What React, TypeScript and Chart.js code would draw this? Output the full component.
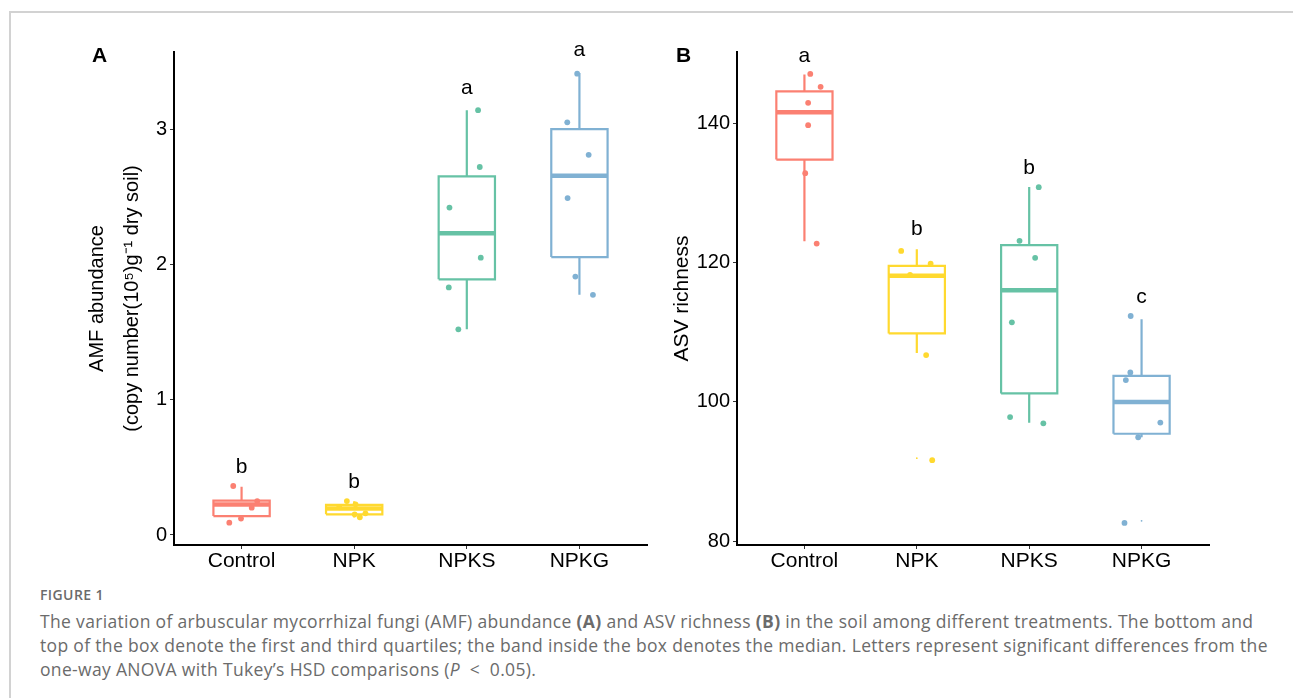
import React, { useEffect, useRef } from "react";
import { Chart, registerables } from "chart.js";

Chart.register(...registerables);

// ---------- shared ----------
const categories = ["Control", "NPK", "NPKS", "NPKG"];
const colors = ["#FB8072", "#FFD92F", "#66C2A5", "#80B1D3"];

// ---------- Panel A: AMF abundance ----------
const aTicks = [0, 1, 2, 3];
const aRange = [-0.074, 3.57];
const aQ1 = [0.14, 0.153, 1.89, 2.054];
const aMedian = [0.226, 0.195, 2.23, 2.655];
const aQ3 = [0.254, 0.222, 2.65, 3.0];
const aWhiskerLow = [0.124, 0.13, 1.52, 1.775];
const aWhiskerHigh = [0.357, 0.25, 3.14, 3.415];
const aPoints = [
  [0.362, 0.251, 0.202, 0.091, 0.121],
  [0.205, 0.251, 0.227, 0.153, 0.131, 0.16],
  [3.14, 2.72, 2.42, 2.05, 1.83, 1.52],
  [3.41, 3.05, 2.81, 2.49, 1.91, 1.775],
];
const aJitter = [
  [-0.074, 0.139, 0.09, -0.109, -0.005],
  [-0.133, -0.065, 0.012, 0.004, 0.05, 0.1],
  [0.1, 0.115, -0.154, 0.124, -0.16, -0.075],
  [-0.02, -0.108, 0.082, -0.105, -0.036, 0.12],
];
const aOutliers: (number | null)[] = [null, null, null, null];
const aLetters = ["b", "b", "a", "a"];
const aLetterY = [0.461, 0.345, 3.262, 3.538];

// ---------- Panel B: ASV richness ----------
const bTicks = [80, 100, 120, 140];
const bRange = [79.43, 150.2];
const bQ1 = [134.76, 109.8, 101.19, 95.4];
const bMedian = [141.55, 118.07, 116.0, 99.94];
const bQ3 = [144.56, 119.5, 122.47, 103.72];
const bWhiskerLow = [123.04, 107.0, 96.97, 94.9];
const bWhiskerHigh = [146.96, 121.9, 130.83, 111.85];
const bPoints = [
  [147.05, 145.2, 142.9, 139.7, 132.8, 122.7],
  [121.65, 119.8, 118.2, 106.7, 91.6],
  [130.8, 123.1, 120.65, 111.4, 97.8, 96.9],
  [112.3, 104.2, 103.1, 97.0, 94.9, 82.6],
];
const bJitter = [
  [0.052, 0.144, 0.033, 0.033, 0.007, 0.109],
  [-0.139, 0.123, -0.06, 0.083, 0.137],
  [0.085, -0.086, 0.053, -0.154, -0.17, 0.126],
  [-0.097, -0.1, -0.14, 0.167, -0.03, -0.152],
];
const bOutliers: (number | null)[] = [null, 91.9, null, 82.9];
const bLetters = ["a", "b", "b", "c"];
const bLetterY = [148.77, 123.9, 132.75, 114.1];

const BOX_HALF = 0.25;
const FONT = '"Liberation Sans", Arial, Helvetica, sans-serif';

const lettersPlugin = {
  id: "letters",
  afterDatasetsDraw(chart: any, _args: any, opts: any) {
    const { ctx, scales } = chart;
    const x = scales.x;
    const y = scales.y;
    ctx.save();
    ctx.font = `21px ${FONT}`;
    ctx.fillStyle = "#000";
    ctx.textAlign = "center";
    ctx.textBaseline = "alphabetic";
    (opts.letters || []).forEach((t: string, i: number) => {
      ctx.fillText(t, x.getPixelForValue(i + 1), y.getPixelForValue(opts.letterY[i]));
    });
    ctx.restore();
  },
};

function buildDatasets(
  q1: number[],
  med: number[],
  q3: number[],
  lo: number[],
  hi: number[],
  pts: number[][],
  jit: number[][],
  outliers: (number | null)[]
) {
  const ds: any[] = [];
  categories.forEach((_c, i) => {
    const x = i + 1;
    const col = colors[i];
    // whiskers
    ds.push({
      data: [
        { x, y: q3[i] },
        { x, y: hi[i] },
        { x, y: null },
        { x, y: q1[i] },
        { x, y: lo[i] },
      ],
      showLine: true,
      spanGaps: false,
      borderColor: col,
      borderWidth: 2.2,
      pointRadius: 0,
      order: 4,
    });
    // box
    ds.push({
      data: [
        { x: x - BOX_HALF, y: q1[i] },
        { x: x + BOX_HALF, y: q1[i] },
        { x: x + BOX_HALF, y: q3[i] },
        { x: x - BOX_HALF, y: q3[i] },
        { x: x - BOX_HALF, y: q1[i] },
      ],
      showLine: true,
      borderColor: col,
      borderWidth: 2.2,
      borderJoinStyle: "miter",
      pointRadius: 0,
      order: 3,
    });
    // median
    ds.push({
      data: [
        { x: x - BOX_HALF, y: med[i] },
        { x: x + BOX_HALF, y: med[i] },
      ],
      showLine: true,
      borderColor: col,
      borderWidth: 4.5,
      borderCapStyle: "butt",
      pointRadius: 0,
      order: 2,
    });
    // jittered points
    ds.push({
      data: pts[i].map((v, j) => ({ x: x + jit[i][j], y: v })),
      showLine: false,
      pointRadius: 2.9,
      pointBorderWidth: 0,
      backgroundColor: col,
      borderColor: col,
      order: 1,
    });
    if (outliers[i] !== null) {
      ds.push({
        data: [{ x, y: outliers[i] }],
        showLine: false,
        pointRadius: 0.9,
        pointBorderWidth: 0,
        backgroundColor: col,
        borderColor: col,
        order: 1,
      });
    }
  });
  return ds;
}

function makeConfig(opts: {
  datasets: any[];
  range: number[];
  ticks: number[];
  yTitle: string | string[];
  yTitleSize: number;
  yTitleLineHeight: number;
  yTitlePad: number;
  yWidth: number;
  padRight: number;
  letters: string[];
  letterY: number[];
}): any {
  return {
    type: "scatter",
    data: { datasets: opts.datasets },
    plugins: [lettersPlugin],
    options: {
      animation: false,
      responsive: false,
      maintainAspectRatio: false,
      events: [],
      layout: { padding: { top: 32, right: opts.padRight, bottom: 0, left: 0 } },
      plugins: {
        legend: { display: false },
        tooltip: { enabled: false },
        letters: { letters: opts.letters, letterY: opts.letterY },
      },
      scales: {
        x: {
          type: "linear",
          min: 0.4,
          max: 4.6,
          afterBuildTicks: (axis: any) => {
            axis.ticks = categories.map((_c, i) => ({ value: i + 1 }));
          },
          afterFit: (axis: any) => {
            axis.height = 35;
            axis.paddingLeft = 0;
            axis.paddingRight = 0;
          },
          ticks: {
            callback: (v: any) => categories[Math.round(v) - 1],
            color: "#000",
            font: { family: FONT, size: 21 },
            padding: 0,
            maxRotation: 0,
            autoSkip: false,
          },
          grid: {
            display: true,
            drawOnChartArea: false,
            drawTicks: true,
            tickLength: 4,
            color: "#333",
            lineWidth: 1,
          },
          border: { display: true, color: "#000", width: 2 },
        },
        y: {
          type: "linear",
          min: opts.range[0],
          max: opts.range[1],
          afterBuildTicks: (axis: any) => {
            axis.ticks = opts.ticks.map((v) => ({ value: v }));
          },
          afterFit: (axis: any) => {
            axis.width = opts.yWidth;
            axis.paddingTop = 0;
            axis.paddingBottom = 0;
          },
          ticks: {
            color: "#000",
            font: { family: FONT, size: 20 },
            padding: 3,
            callback: (v: any) => String(v),
          },
          grid: {
            display: true,
            drawOnChartArea: false,
            drawTicks: true,
            tickLength: 4,
            color: "#333",
            lineWidth: 1,
          },
          border: { display: true, color: "#000", width: 2 },
          title: {
            display: true,
            text: opts.yTitle,
            color: "#000",
            font: { family: FONT, size: opts.yTitleSize, lineHeight: opts.yTitleLineHeight },
            padding: { top: opts.yTitlePad, bottom: 0 },
          },
        },
      },
    },
  };
}

function ChartCanvas({ config, width, height, style }: any) {
  const ref = useRef<HTMLCanvasElement | null>(null);
  useEffect(() => {
    if (!ref.current) return;
    const chart = new Chart(ref.current, config);
    return () => chart.destroy();
  }, []);
  return <canvas ref={ref} width={width} height={height} style={{ position: "absolute", display: "block", width, height, ...style }} />;
}

const captionFont = '"Open Sans", Lato, "Noto Sans", sans-serif';

export default function App() {
  const configA = makeConfig({
    datasets: buildDatasets(aQ1, aMedian, aQ3, aWhiskerLow, aWhiskerHigh, aPoints, aJitter, aOutliers),
    range: aRange,
    ticks: aTicks,
    yTitle: ["AMF abundance", "(copy number(10\u2075)g\u207B\u00B9 dry soil)"],
    yTitleSize: 20,
    yTitleLineHeight: 1.75,
    yTitlePad: 20,
    yWidth: 114,
    padRight: 13,
    letters: aLetters,
    letterY: aLetterY,
  });
  const configB = makeConfig({
    datasets: buildDatasets(bQ1, bMedian, bQ3, bWhiskerLow, bWhiskerHigh, bPoints, bJitter, bOutliers),
    range: bRange,
    ticks: bTicks,
    yTitle: "ASV richness",
    yTitleSize: 21,
    yTitleLineHeight: 1.2,
    yTitlePad: 10,
    yWidth: 77,
    padRight: 11,
    letters: bLetters,
    letterY: bLetterY,
  });

  const panelLabel: React.CSSProperties = {
    position: "absolute",
    top: 44,
    fontFamily: FONT,
    fontWeight: 700,
    fontSize: 21,
    lineHeight: "21px",
    color: "#000",
  };

  return (
    <div style={{ position: "absolute", left: 0, top: 0, width: 1293, height: 698, overflow: "hidden", background: "#fff" }}>
      <div
        style={{
          position: "absolute",
          left: 9,
          top: 11,
          width: 1300,
          height: 700,
          borderLeft: "2px solid #d2d2d2",
          borderTop: "2px solid #d2d2d2",
        }}
      />
      <ChartCanvas config={configA} width={600} height={560} style={{ left: 60, top: 20 }} />
      <ChartCanvas config={configB} width={560} height={560} style={{ left: 660, top: 20 }} />
      <div style={{ ...panelLabel, left: 92 }}>A</div>
      <div style={{ ...panelLabel, left: 676 }}>B</div>
      <div
        style={{
          position: "absolute",
          left: 40,
          top: 586,
          fontFamily: captionFont,
          fontSize: 14,
          fontWeight: 600,
          color: "#6b6b6b",
          letterSpacing: 0.4,
          lineHeight: "18px",
          whiteSpace: "nowrap",
        }}
      >
        FIGURE 1
      </div>
      <div
        style={{
          position: "absolute",
          left: 40,
          top: 609,
          fontFamily: captionFont,
          fontSize: 17.5,
          letterSpacing: 0.33,
          color: "#6b6b6b",
          lineHeight: "24px",
          whiteSpace: "nowrap",
        }}
      >
        <div>
          The variation of arbuscular mycorrhizal fungi (AMF) abundance <b>(A)</b> and ASV richness <b>(B)</b> in the soil
          among different treatments. The bottom and
        </div>
        <div>
          top of the box denote the first and third quartiles; the band inside the box denotes the median. Letters represent
          significant differences from the
        </div>
        <div>
          one-way ANOVA with Tukey’s HSD comparisons (<i>P</i>&nbsp;&nbsp;&lt;&nbsp;&nbsp;0.05).
        </div>
      </div>
    </div>
  );
}
